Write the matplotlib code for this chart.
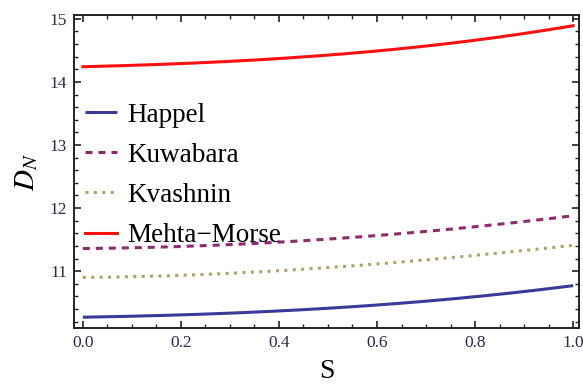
import matplotlib
matplotlib.use("Agg")
import matplotlib.pyplot as plt
from matplotlib.ticker import MultipleLocator, FormatStrFormatter
import numpy as np

plt.rcParams["mathtext.fontset"] = "stix"

S = [0.0, 0.2, 0.4, 0.6, 0.8, 1.0]
happel = [10.27, 10.31, 10.37, 10.46, 10.60, 10.77]
kuwabara = [11.36, 11.39, 11.46, 11.57, 11.70, 11.88]
kvashnin = [10.90, 10.94, 11.00, 11.12, 11.25, 11.41]
mehta_morse = [14.24, 14.29, 14.37, 14.49, 14.66, 14.89]
labels = ["Happel", "Kuwabara", "Kvashnin", "Mehta\u2212Morse"]

def smooth(x, y):
    xs = np.linspace(x[0], x[-1], 200)
    c = np.polyfit(x, y, 3)
    return xs, np.polyval(c, xs)

fig = plt.figure(figsize=(5.83, 3.88), dpi=100)
ax = fig.add_axes([74/583, 1 - 328/388, (579-74)/583, (328-15)/388])

serif = ["Liberation Serif", "DejaVu Serif"]
lw = 2.2
h = ax.plot(*smooth(S, happel), color="#3a3a9a", lw=lw, solid_capstyle="butt")[0]
k = ax.plot(*smooth(S, kuwabara), color="#8e2a6e", lw=lw, dashes=(2.3, 1.95))[0]
kv = ax.plot(*smooth(S, kvashnin), color="#b0a266", lw=lw, dashes=(1.0, 1.75))[0]
m = ax.plot(*smooth(S, mehta_morse), color="#ff1010", lw=lw)[0]

ax.set_xlim(-0.018, 1.012)
ax.set_ylim(10.1, 15.06)
ax.xaxis.set_major_locator(MultipleLocator(0.2))
ax.xaxis.set_minor_locator(MultipleLocator(0.05))
ax.yaxis.set_major_locator(MultipleLocator(1))
ax.yaxis.set_minor_locator(MultipleLocator(0.2))
ax.xaxis.set_major_formatter(FormatStrFormatter("%.1f"))
ax.tick_params(which="both", direction="in", top=True, right=True, color="#222222")
ax.tick_params(which="major", length=5, width=1.2, pad=5)
ax.tick_params(which="minor", length=3, width=1.0)
ax.tick_params(labelright=False, labeltop=False)
for lab in ax.get_xticklabels() + ax.get_yticklabels():
    lab.set_fontfamily(serif)
    lab.set_fontsize(12.5)
    lab.set_color("#2a2a4a")
for sp in ax.spines.values():
    sp.set_linewidth(1.4)
    sp.set_color("#222222")

ax.set_xlabel("S", fontfamily=serif, fontsize=20, labelpad=6)
ax.set_ylabel(r"$D_N$", fontsize=21, labelpad=7)

leg = ax.legend([h, k, kv, m], labels, loc="upper left", bbox_to_anchor=(0.0, 0.755),
                frameon=False, prop={"family": serif, "size": 19.5},
                handlelength=1.2, handletextpad=0.35, labelspacing=0.56, borderaxespad=0.0)

fig.savefig("out.png", dpi=100)
